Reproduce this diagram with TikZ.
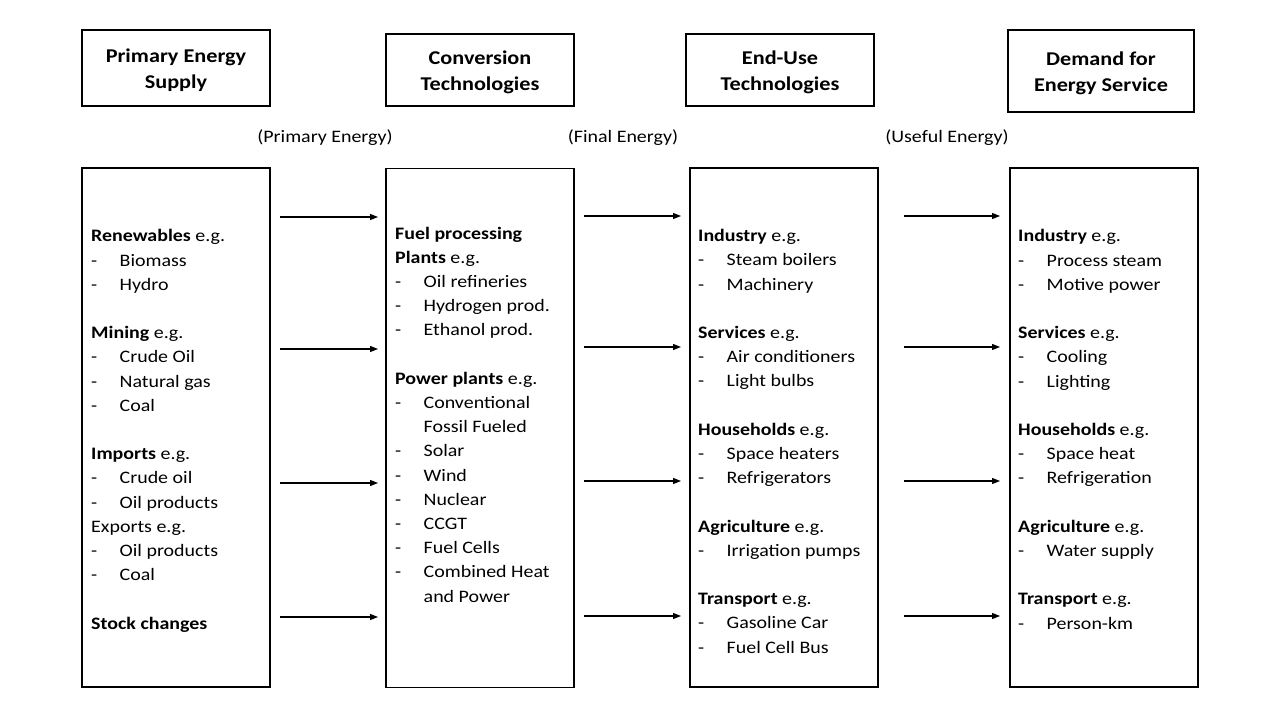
\documentclass[tikz,border=0pt]{standalone}
\usepackage{fontspec}
\setmainfont{Carlito}[FakeStretch=1.14]
\usetikzlibrary{arrows.meta}
\newcommand\itm[1]{\makebox[28.5pt][l]{-}#1}
\newcommand\cont[1]{\hspace*{28.5pt}#1}
\begin{document}
\begin{tikzpicture}[x=1pt,y=-1pt,
  hdrbox/.style={draw, line width=1.4pt, inner sep=0, minimum width=188pt},
  hdrtext/.style={font=\bfseries\fontsize{19.5}{26}\selectfont, align=center, inner sep=0},
  panel/.style={draw, line width=1.4pt, minimum width=188pt, minimum height=519pt, inner sep=0},
  body/.style={anchor=base west, align=left, inner sep=0, font=\fontsize{17.5}{24.2}\selectfont},
  lbl/.style={font=\fontsize{17.5}{21}\selectfont, inner sep=0},
  arr/.style={line width=1.2pt, -{Triangle[length=8pt,width=6pt]}}]
\useasboundingbox[fill=white] (0,0) rectangle (1280,722);

% headers
\node[hdrbox, minimum height=76pt] (h1) at (176,68) {};
\node[hdrtext] (h1t) at (176,70.5) {Primary Energy\\Supply};
\node[hdrbox, minimum height=72pt] (h2) at (480,70) {};
\node[hdrtext] (h2t) at (480,72) {Conversion\\Technologies};
\node[hdrbox, minimum height=72pt] (h3) at (780,70) {};
\node[hdrtext] (h3t) at (780,72) {End-Use\\Technologies};
\node[hdrbox, minimum height=82pt, minimum width=186pt] (h4) at (1101,71) {};
\node[hdrtext] (h4t) at (1101,73.5) {Demand for\\Energy Service};

% labels
\node[lbl] (l1) at (325,138) {(Primary Energy)};
\node[lbl] (l2) at (623,138) {(Final Energy)};
\node[lbl] (l3) at (947,138) {(Useful Energy)};

% panels
\node[panel] (p1) at (176,427.5) {};
\node[panel] (p2) at (480,428) {};
\node[panel] (p3) at (784,427.5) {};
\node[panel] (p4) at (1104,427.5) {};

% texts (anchored at the baseline of the last line)
\node[body] (t1) at (91,629) {\textbf{Renewables} e.g.\\
\itm{Biomass}\\
\itm{Hydro}\\[24.2pt]
\textbf{Mining} e.g.\\
\itm{Crude Oil}\\
\itm{Natural gas}\\
\itm{Coal}\\[24.2pt]
\textbf{Imports} e.g.\\
\itm{Crude oil}\\
\itm{Oil products}\\
Exports e.g.\\
\itm{Oil products}\\
\itm{Coal}\\[24.2pt]
\textbf{Stock changes}};

\node[body] (t2) at (395,602) {\textbf{Fuel processing}\\
\textbf{Plants} e.g.\\
\itm{Oil refineries}\\
\itm{Hydrogen prod.}\\
\itm{Ethanol prod.}\\[24.2pt]
\textbf{Power plants} e.g.\\
\itm{Conventional}\\
\cont{Fossil Fueled}\\
\itm{Solar}\\
\itm{Wind}\\
\itm{Nuclear}\\
\itm{CCGT}\\
\itm{Fuel Cells}\\
\itm{Combined Heat}\\
\cont{and Power}};

\node[body] (t3) at (698,653) {\textbf{Industry} e.g.\\
\itm{Steam boilers}\\
\itm{Machinery}\\[24.2pt]
\textbf{Services} e.g.\\
\itm{Air conditioners}\\
\itm{Light bulbs}\\[24.2pt]
\textbf{Households} e.g.\\
\itm{Space heaters}\\
\itm{Refrigerators}\\[24.2pt]
\textbf{Agriculture} e.g.\\
\itm{Irrigation pumps}\\[24.2pt]
\textbf{Transport} e.g.\\
\itm{Gasoline Car}\\
\itm{Fuel Cell Bus}};

\node[body] (t4) at (1018,629) {\textbf{Industry} e.g.\\
\itm{Process steam}\\
\itm{Motive power}\\[24.2pt]
\textbf{Services} e.g.\\
\itm{Cooling}\\
\itm{Lighting}\\[24.2pt]
\textbf{Households} e.g.\\
\itm{Space heat}\\
\itm{Refrigeration}\\[24.2pt]
\textbf{Agriculture} e.g.\\
\itm{Water supply}\\[24.2pt]
\textbf{Transport} e.g.\\
\itm{Person-km}};

% arrow end points
\foreach \i/\y in {1/217,2/349,3/483,4/617}{
  \coordinate (a\i s) at (280,\y); \coordinate (a\i e) at (378,\y);
  \draw[arr] (a\i s) -- (a\i e);
}
\foreach \i/\y in {1/216,2/347,3/481,4/616}{
  \coordinate (b\i s) at (584,\y); \coordinate (b\i e) at (681,\y);
  \draw[arr] (b\i s) -- (b\i e);
  \coordinate (c\i s) at (904,\y); \coordinate (c\i e) at (1000,\y);
  \draw[arr] (c\i s) -- (c\i e);
}
\end{tikzpicture}
\end{document}
